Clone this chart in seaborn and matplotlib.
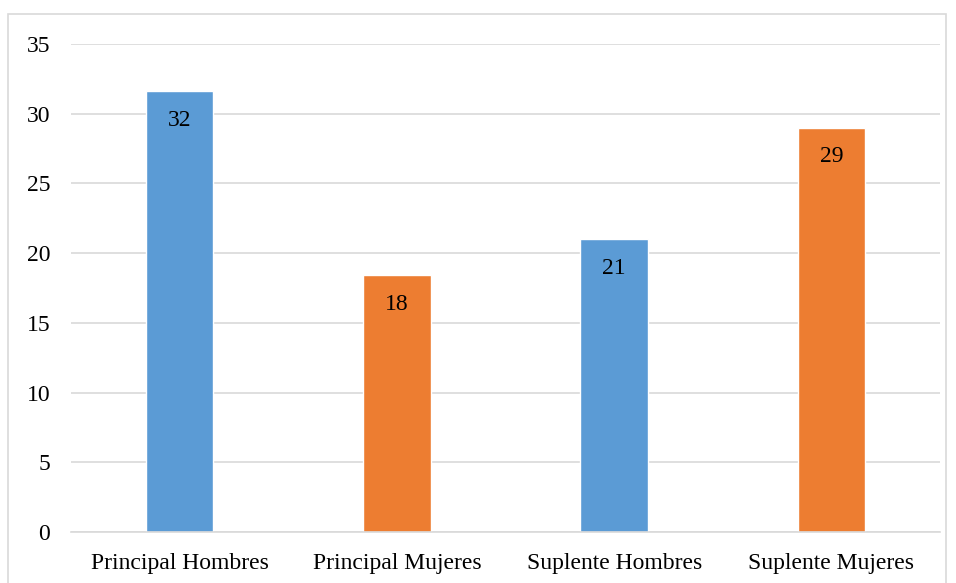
import matplotlib
matplotlib.use("Agg")
import matplotlib.pyplot as plt
import matplotlib.patches as mpatches
import seaborn as sns
import pandas as pd

categories = ["Principal Hombres", "Principal Mujeres", "Suplente Hombres", "Suplente Mujeres"]
values = [31.6, 18.4, 21.0, 29.0]
groups = ["Hombres", "Mujeres", "Hombres", "Mujeres"]
palette = {"Hombres": "#5B9BD5", "Mujeres": "#ED7D31"}
y_ticks = [0, 5, 10, 15, 20, 25, 30, 35]

sns.set_theme(style="white")
plt.rcParams["font.family"] = ["Liberation Serif", "DejaVu Serif"]

df = pd.DataFrame({"cat": categories, "val": values, "grp": groups})

fig = plt.figure(figsize=(9.56, 5.83), dpi=100)
ax = fig.add_axes([0.0743, 0.0875, 0.909, 0.837])

sns.barplot(data=df, x="cat", y="val", hue="grp", palette=palette,
            dodge=False, width=0.31, legend=False, ax=ax, saturation=1)

ax.set_ylim(0, 35)
ax.set_yticks(y_ticks)
ax.set_yticklabels([str(t) for t in y_ticks])
ax.set_xlim(-0.5, len(categories) - 0.5)
ax.set_xlabel("")
ax.set_ylabel("")
ax.yaxis.grid(True, color="#D9D9D9", linewidth=1.2)
ax.set_axisbelow(True)
for side in ["left", "right", "top"]:
    ax.spines[side].set_visible(False)
ax.spines["bottom"].set_color("#D9D9D9")
ax.spines["bottom"].set_linewidth(1.2)
ax.tick_params(axis="both", length=0, labelsize=17, colors="black")
ax.tick_params(axis="y", pad=15)
ax.tick_params(axis="x", pad=15)

for i, v in enumerate(values):
    ax.annotate(f"{v:.0f}", xy=(i, v), xytext=(0, -21), textcoords="offset points",
                ha="center", va="center", fontsize=17, color="black")

# light frame around the chart area
frame = mpatches.Rectangle((8 / 956, -0.05), (946 - 8) / 956, (583 - 14) / 583 + 0.05,
                           transform=fig.transFigure, fill=False,
                           edgecolor="#D9D9D9", linewidth=1.2, clip_on=False)
fig.patches.append(frame)

fig.savefig("out.png", dpi=100)
